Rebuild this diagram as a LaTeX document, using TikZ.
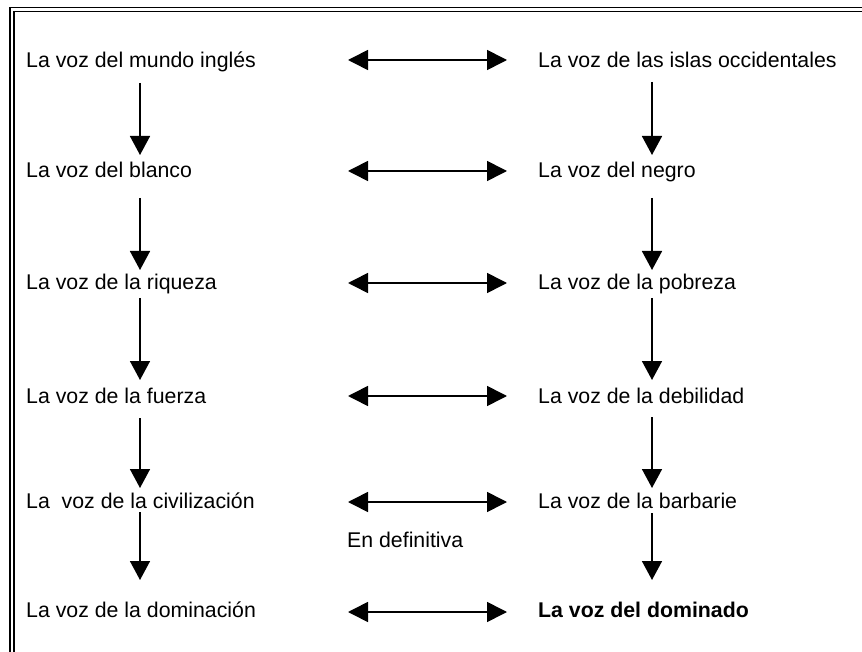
\documentclass[tikz,border=0pt]{standalone}
\usepackage{fontspec}
\setmainfont{Liberation Sans}
\usetikzlibrary{arrows.meta}
\begin{document}
\begin{tikzpicture}[x=1pt,y=-1pt,
  lbl/.style={anchor=base west,inner sep=0pt,font=\fontsize{21.3}{25}\selectfont},
  vflow/.style={line width=1.6pt,-{Triangle[length=19pt,width=20pt]}},
  hlink/.style={line width=1.6pt,{Triangle[length=20pt,width=20pt]}-{Triangle[length=20pt,width=20pt]}},
  frameline/.style={line width=1.6pt}]
\useasboundingbox (0,0) rectangle (862,652);
% frame (double line, left and top)
\draw[frameline] (10,652) -- (10,7.5) -- (862,7.5);
\draw[frameline] (14,652) -- (14,11.5) -- (862,11.5);
% left column
\node[lbl] (L1) at (26,68) {La voz del mundo inglés};
\node[lbl] (L2) at (26,178) {La voz del blanco};
\node[lbl] (L3) at (26,290) {La voz de la riqueza};
\node[lbl] (L4) at (26,403) {La voz de la fuerza};
\node[lbl] (L5) at (26,508) {La\ \ voz de la civilización};
\node[lbl] (L6) at (26,617) {La voz de la dominación};
% right column
\node[lbl] (R1) at (538,68) {La voz de las islas occidentales};
\node[lbl] (R2) at (538,178) {La voz del negro};
\node[lbl] (R3) at (538,290) {La voz de la pobreza};
\node[lbl] (R4) at (538,403) {La voz de la debilidad};
\node[lbl] (R5) at (538,508) {La voz de la barbarie};
\node[lbl] (R6) at (538,617) {\bfseries La voz del dominado};
\node[lbl] (ED) at (347,547) {En definitiva};
% vertical arrow ends
\coordinate (la1) at (140,83);  \coordinate (lb1) at (140,155);
\coordinate (la2) at (140,198); \coordinate (lb2) at (140,270);
\coordinate (la3) at (140,298); \coordinate (lb3) at (140,380);
\coordinate (la4) at (140,418); \coordinate (lb4) at (140,488);
\coordinate (la5) at (140,512); \coordinate (lb5) at (140,580);
\coordinate (ra1) at (652,82);  \coordinate (rb1) at (652,155);
\coordinate (ra2) at (652,198); \coordinate (rb2) at (652,270);
\coordinate (ra3) at (652,298); \coordinate (rb3) at (652,380);
\coordinate (ra4) at (652,417); \coordinate (rb4) at (652,488);
\coordinate (ra5) at (652,513); \coordinate (rb5) at (652,580);
\foreach \i in {1,...,5}{
  \draw[vflow] (la\i) -- (lb\i);
  \draw[vflow] (ra\i) -- (rb\i);
}
% horizontal arrow ends
\coordinate (ha1) at (348,60);  \coordinate (hb1) at (507,60);
\coordinate (ha2) at (348,171); \coordinate (hb2) at (507,171);
\coordinate (ha3) at (348,283); \coordinate (hb3) at (507,283);
\coordinate (ha4) at (348,396); \coordinate (hb4) at (507,396);
\coordinate (ha5) at (348,502); \coordinate (hb5) at (507,502);
\coordinate (ha6) at (348,612); \coordinate (hb6) at (507,612);
\foreach \i in {1,...,6}{
  \draw[hlink] (ha\i) -- (hb\i);
}
\end{tikzpicture}
\end{document}
